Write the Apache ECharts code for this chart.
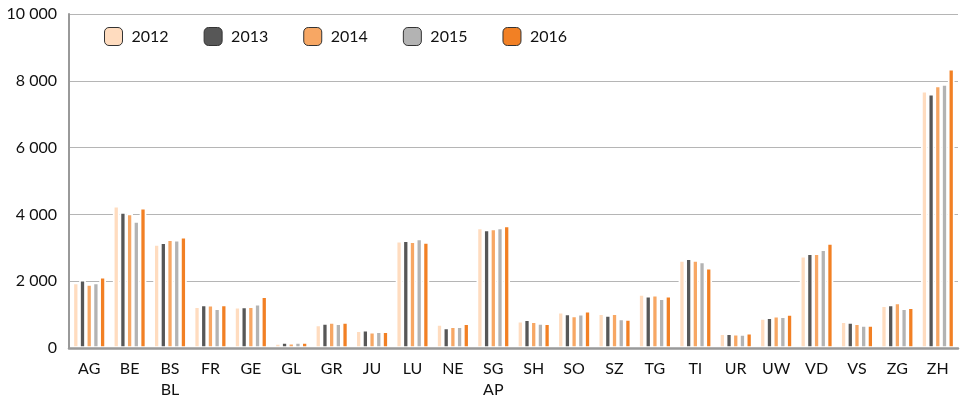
<!DOCTYPE html>
<html>
<head>
<meta charset="utf-8">
<script src="https://cdn.jsdelivr.net/npm/echarts@6/dist/echarts.min.js"></script>
<style>
html,body{margin:0;padding:0;background:#fff;}
#chart{width:964px;height:400px;}
</style>
</head>
<body>
<div id="chart"></div>
<script>
var categories = ['AG','BE','BS\nBL','FR','GE','GL','GR','JU','LU','NE','SG\nAP','SH','SO','SZ','TG','TI','UR','UW','VD','VS','ZG','ZH'];
var years = ['2012','2013','2014','2015','2016'];
var v2012 = [1960,4255,3113,1251,1230,148,700,532,3211,719,3605,818,1084,1040,1615,2630,443,896,2758,798,1281,7700];
var v2013 = [2039,4068,3162,1300,1240,177,745,542,3221,611,3546,857,1034,990,1566,2689,443,916,2837,778,1300,7613];
var v2014 = [1911,4029,3251,1290,1245,158,780,483,3191,650,3575,798,975,1037,1596,2630,424,965,2837,739,1359,7861];
var v2015 = [1960,3802,3241,1192,1320,177,740,502,3280,650,3605,749,1024,879,1487,2591,414,946,2955,690,1192,7901];
var v2016 = [2128,4196,3329,1300,1550,177,780,502,3172,739,3664,739,1113,864,1566,2403,453,1015,3142,690,1221,8357];
var yTicks = [0,2000,4000,6000,8000,10000];
var colors = ['#FFDCBF','#575757','#F7A764','#B3B3B3','#F28024'];

var seriesValues = [v2012,v2013,v2014,v2015,v2016];
var font = 'Lato, "Open Sans", sans-serif';

var chart = echarts.init(document.getElementById('chart'));
chart.setOption({
  animation: false,
  backgroundColor: '#fff',
  textStyle: {fontFamily: font},
  grid: {left: 69, right: 6, top: 14, bottom: 49, containLabel: false},
  legend: {
    left: 99, top: 22,
    itemWidth: 18, itemHeight: 18, itemGap: 35,
    data: years,
    itemStyle: {borderColor: '#333333', borderWidth: 1},
    textStyle: {fontFamily: font, fontSize: 16, color: '#111', padding: [0,0,0,4]}
  },
  xAxis: {
    type: 'category',
    data: categories,
    z: 5,
    axisLine: {lineStyle: {color: '#999999', width: 2.5}},
    axisTick: {inside: true, length: 8, lineStyle: {color: '#8a8a8a', width: 1.5}},
    axisLabel: {fontFamily: font, fontSize: 16, color: '#111', margin: 10, lineHeight: 21}
  },
  yAxis: {
    type: 'value',
    min: yTicks[0], max: yTicks[yTicks.length-1], interval: 2000,
    axisLine: {show: true, lineStyle: {color: '#999999', width: 2}},
    axisTick: {show: false},
    splitLine: {lineStyle: {color: '#B5B5B5', width: 1.2}},
    axisLabel: {
      fontFamily: font, fontSize: 16, color: '#111', margin: 12,
      formatter: function (v) {
        var s = String(v);
        if (v >= 1000) s = s.slice(0, s.length-3) + ' ' + s.slice(-3);
        return s;
      }
    }
  },
  series: years.map(function (y, i) {
    return {
      name: y,
      type: 'bar',
      data: seriesValues[i],
      barWidth: 6.7,
      barGap: '0%',
      itemStyle: {color: colors[i], borderColor: '#ffffff', borderWidth: 1.7}
    };
  })
});
</script>
</body>
</html>
